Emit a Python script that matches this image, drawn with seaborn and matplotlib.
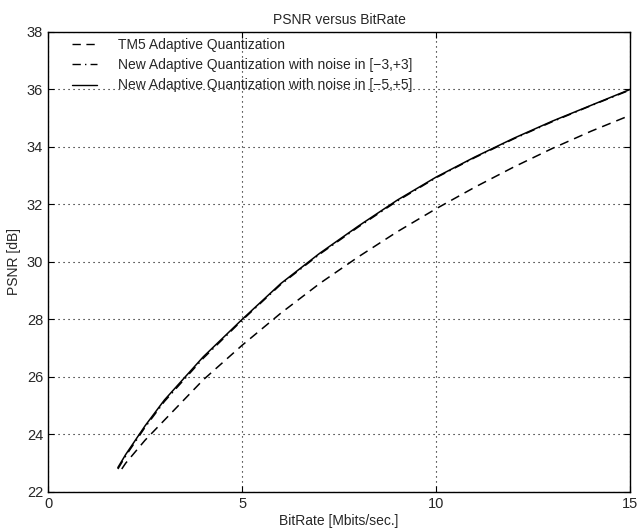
import numpy as np
import pandas as pd
import matplotlib
matplotlib.use("Agg")
import matplotlib.pyplot as plt
import seaborn as sns

# Data
x_tm5 = [1.9, 2.0, 2.5, 3, 4, 5, 6, 7, 8, 9, 10, 11, 12, 13, 14, 15]
y_tm5 = [22.8, 23.0, 23.8, 24.5, 25.9, 27.1, 28.22, 29.25, 30.18, 31.05, 31.85, 32.6, 33.3, 33.95, 34.55, 35.1]

x_new3 = [1.8, 2.0, 2.5, 3, 4, 5, 6, 7, 8, 9, 10, 11, 12, 13, 14, 15]
y_new3 = [22.8, 23.25, 24.25, 25.15, 26.65, 27.97, 29.22, 30.27, 31.22, 32.12, 32.93, 33.63, 34.28, 34.88, 35.44, 35.98]

x_new5 = [1.8, 2.0, 2.5, 3, 4, 5, 6, 7, 8, 9, 10, 11, 12, 13, 14, 15]
y_new5 = [22.85, 23.3, 24.3, 25.2, 26.7, 28.0, 29.25, 30.3, 31.25, 32.15, 32.95, 33.65, 34.3, 34.9, 35.45, 36.0]

labels = ["TM5 Adaptive Quantization",
          "New Adaptive Quantization with noise in [\u22123,+3]",
          "New Adaptive Quantization with noise in [\u22125,+5]"]

df = pd.concat([
    pd.DataFrame({"x": x_tm5, "y": y_tm5, "series": labels[0]}),
    pd.DataFrame({"x": x_new3, "y": y_new3, "series": labels[1]}),
    pd.DataFrame({"x": x_new5, "y": y_new5, "series": labels[2]}),
])

sns.set_style("ticks")
plt.rcParams['font.family'] = ['Liberation Sans', 'DejaVu Sans']
plt.rcParams['xtick.direction'] = 'in'
plt.rcParams['ytick.direction'] = 'in'

fig = plt.figure(figsize=(6.37, 5.30), dpi=100)
ax = fig.add_axes([0.0754, 0.0717, 0.9136, 0.868])

sns.lineplot(data=df, x="x", y="y", hue="series", style="series",
             palette={l: "black" for l in labels},
             dashes={labels[0]: (6, 4), labels[1]: (6, 3, 1, 3), labels[2]: ""},
             linewidth=1.1, ax=ax, sort=False, estimator=None)

ax.set_xlim(0, 15)
ax.set_ylim(22, 38)
ax.set_xticks([0, 5, 10, 15])
ax.set_yticks(np.arange(22, 39, 2))
ax.grid(True, linestyle=(0, (1, 3.5)), color="black", linewidth=0.8)
ax.tick_params(labelsize=10.5, length=4, top=True, right=True, color="black", width=0.8)
for s in ax.spines.values():
    s.set_visible(True)
    s.set_linewidth(1.0)
    s.set_color("black")

ax.set_xlabel("BitRate [Mbits/sec.]", fontsize=10, labelpad=2)
ax.set_ylabel("PSNR [dB]", fontsize=10, labelpad=4)
ax.set_title("PSNR versus BitRate", fontsize=10, pad=6)

leg = ax.legend(loc="upper left", bbox_to_anchor=(24 / 582, 1 - 6 / 460),
                frameon=False, fontsize=10, handlelength=1.8,
                borderaxespad=0, borderpad=0, labelspacing=0.45, handletextpad=1.5)
for h in leg.get_lines():
    h.set_linewidth(1.0)

fig.savefig("out.png", dpi=100)
